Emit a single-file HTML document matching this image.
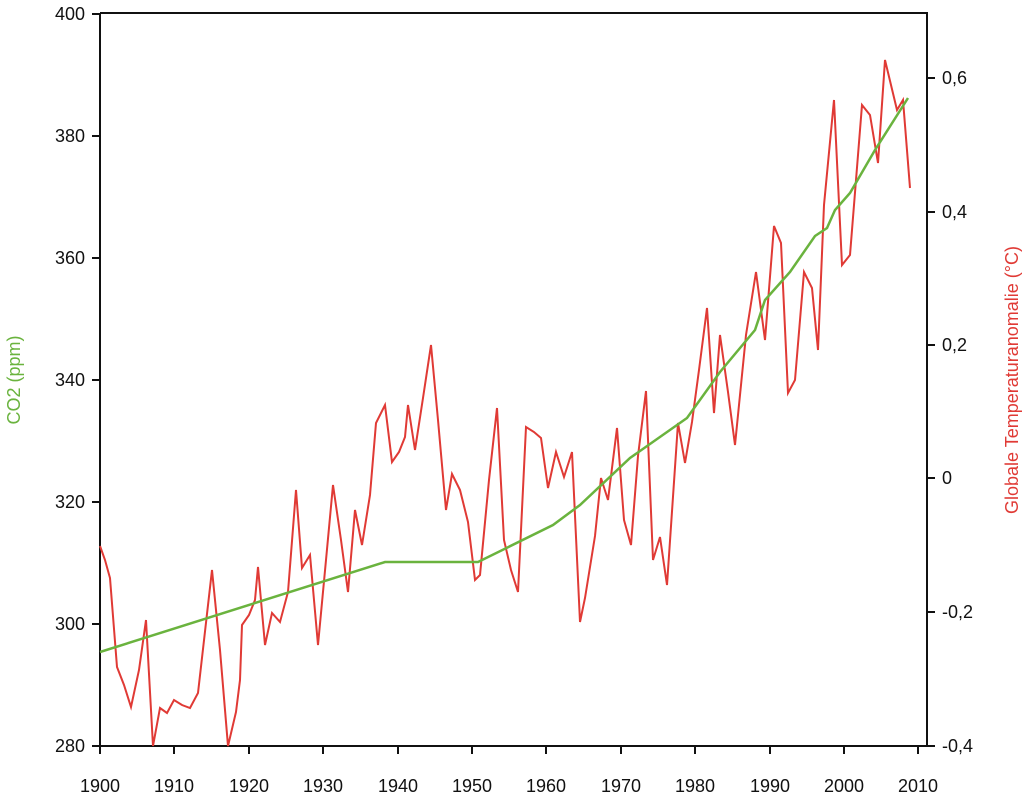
<!DOCTYPE html><html><head><style>body{margin:0;background:#fff}svg{display:block}text{font-family:"Liberation Sans",sans-serif;font-size:18px;fill:#111}</style></head><body>
<svg width="1024" height="796" viewBox="0 0 1024 796">
<g stroke="#111" stroke-width="2" fill="none">
<path d="M100,13V746H927V13H100"/>
<path d="M92,14H100M92,136H100M92,258H100M92,380H100M92,502H100M92,624H100M92,746H100"/>
<path d="M927,78H935M927,212H935M927,345H935M927,478H935M927,612H935M927,746H935"/>
<path d="M100,746v8M174,746v8M249,746v8M323,746v8M398,746v8M472,746v8M546,746v8M621,746v8M695,746v8M770,746v8M844,746v8M918,746v8"/>
</g>
<g text-anchor="end"><text x="85" y="20">400</text><text x="85" y="142">380</text><text x="85" y="264">360</text><text x="85" y="386">340</text><text x="85" y="508">320</text><text x="85" y="630">300</text><text x="85" y="752">280</text></g>
<g><text x="942" y="84">0,6</text><text x="942" y="218">0,4</text><text x="942" y="351">0,2</text><text x="942" y="484">0</text><text x="942" y="618">-0,2</text><text x="942" y="752">-0,4</text></g>
<g text-anchor="middle"><text x="100" y="792">1900</text><text x="174" y="792">1910</text><text x="249" y="792">1920</text><text x="323" y="792">1930</text><text x="398" y="792">1940</text><text x="472" y="792">1950</text><text x="546" y="792">1960</text><text x="621" y="792">1970</text><text x="695" y="792">1980</text><text x="770" y="792">1990</text><text x="844" y="792">2000</text><text x="918" y="792">2010</text></g>
<text transform="translate(20,380) rotate(-90)" text-anchor="middle" style="fill:#6ab33e">CO2 (ppm)</text>
<text transform="translate(1018,380) rotate(-90)" text-anchor="middle" style="fill:#e03a35">Globale Temperaturanomalie (°C)</text>
<polyline fill="none" stroke="#e03a35" stroke-width="2" stroke-linejoin="miter" points="100,546 105,560 110,578 117,667 124,685 131,707 139,670 146,620 153,746 160,708 167,713 174,700 182,705 190,708 198,693 212,570 220,650 228,746 236,712 240,680 242,625 249,615 255,600 258,567 265,645 272,613 280,622 288,592 296,490 302,568 310,555 318,645 326,560 333,485 341,540 348,592 355,510 362,545 370,495 376,423 385,405 392,462 399,452 405,437 408,405 415,450 423,398 431,345 438,420 446,510 452,474 460,490 468,522 475,580 480,575 489,480 497,408 504,540 511,570 518,592 526,427 534,432 541,438 548,488 556,452 564,477 572,452 580,622 585,598 595,536 601,478 608,500 617,428 624,520 631,545 638,456 646,391 653,560 660,537 667,585 678,423 685,463 692,422 699,370 707,308 714,413 720,335 728,392 735,445 746,335 756,272 765,340 774,226 781,243 788,393 795,380 804,272 812,288 818,350 824,205 834,100 842,265 850,255 862,105 870,115 878,163 885,60 897,110 903,100 910,188"/>
<polyline fill="none" stroke="#6ab33e" stroke-width="2.5" points="100,652 385,562 478,562 553,525 580,505 630,458 687,418 720,372 755,330 765,300 790,272 815,236 827,228 835,210 850,193 875,150 908,98"/>
</svg></body></html>
